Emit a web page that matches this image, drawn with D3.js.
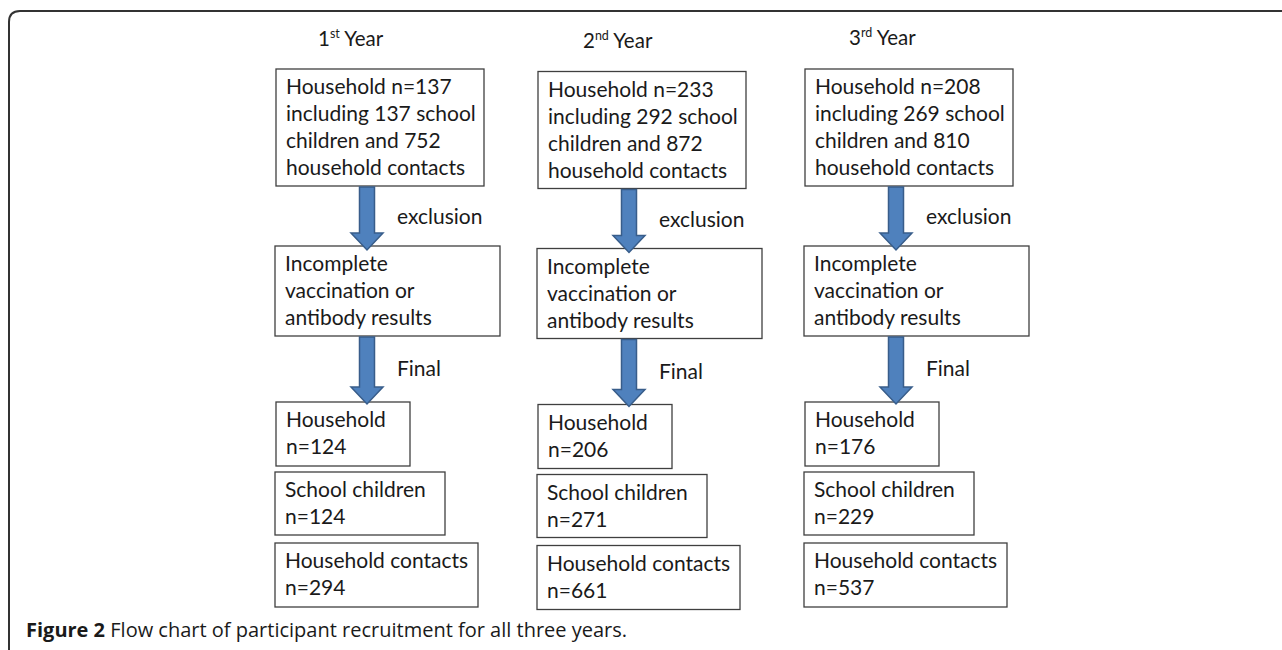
<!DOCTYPE html>
<html>
<head>
<meta charset="utf-8">
<script src="https://cdn.jsdelivr.net/npm/d3@7"></script>
<style>
  html, body { margin: 0; padding: 0; background: #fff; }
  svg text { fill: #1a1a1a; }
</style>
</head>
<body>
<svg id="chart" width="1282" height="650"></svg>
<script>
// data
const years = ["1", "2", "3"];
const yearSuffix = ["st", "nd", "rd"];
const households = [137, 233, 208];
const schoolChildren = [137, 292, 269];
const householdContacts = [752, 872, 810];
const exclusionLines = ["Incomplete", "vaccination or", "antibody results"];
const finalHouseholds = [124, 206, 176];
const finalChildren = [124, 271, 229];
const finalContacts = [294, 661, 537];
const arrowLabels = ["exclusion", "Final"];
const captionBold = "Figure 2";
const captionText = " Flow chart of participant recruitment for all three years.";

const svg = d3.select("#chart");
const width = +svg.attr("width");
const height = +svg.attr("height");

const boxFont = "Lato, 'Open Sans', sans-serif";
const boxFontSize = 21;
const lineStep = 27;

// column placement
const colX = d3.scaleOrdinal().domain(years).range([275, 537, 804]);
const colShift = d3.scaleOrdinal().domain(years).range([0, 2.5, 0]);

// rows of boxes: offset, top, size
const rows = [
  { key: "top", dx: 1, y: 69, w: 208, h: 117,
    lines: (i) => [
      "Household n=" + households[i],
      "including " + schoolChildren[i] + " school",
      "children and " + householdContacts[i],
      "household contacts"
    ] },
  { key: "excl", dx: 0, y: 246, w: 225, h: 90, lines: () => exclusionLines },
  { key: "hh", dx: 1, y: 402, w: 134, h: 64,
    lines: (i) => ["Household", "n=" + finalHouseholds[i]] },
  { key: "sc", dx: 0, y: 472, w: 170, h: 63,
    lines: (i) => ["School children", "n=" + finalChildren[i]] },
  { key: "hc", dx: 0, y: 543, w: 203, h: 64,
    lines: (i) => ["Household contacts", "n=" + finalContacts[i]] }
];

// outer frame, open on the right and bottom
const r = 11;
svg.append("path")
  .attr("d", `M9,${height} L9,${11 + r} Q9,11 ${9 + r},11 L${width},11`)
  .attr("fill", "none")
  .attr("stroke", "#333")
  .attr("stroke-width", 2);

const cols = svg.selectAll("g.year")
  .data(years)
  .join("g")
  .attr("class", "year")
  .attr("transform", (d) => `translate(${colX(d)},${colShift(d)})`);

// year titles
const titles = cols.append("text")
  .attr("x", (d, i) => [43, 46, 45][i])
  .attr("y", (d, i) => [46, 45, 45][i])
  .attr("font-family", boxFont)
  .attr("font-size", 20.5);
titles.append("tspan").text((d) => d);
titles.append("tspan")
  .attr("dy", -8)
  .attr("font-size", 12.5)
  .text((d, i) => yearSuffix[i]);
titles.append("tspan")
  .attr("dy", 8)
  .text(" Year");

// boxes
rows.forEach((row) => {
  const g = cols.append("g")
    .attr("class", "box " + row.key)
    .attr("transform", `translate(${row.dx},${row.y})`);

  g.append("rect")
    .attr("width", row.w)
    .attr("height", row.h)
    .attr("fill", "#fff")
    .attr("stroke", "#3f3f3f")
    .attr("stroke-width", 1.3);

  g.append("text")
    .attr("font-family", boxFont)
    .attr("font-size", boxFontSize)
    .selectAll("tspan")
    .data((d, i) => row.lines(i))
    .join("tspan")
    .attr("x", 10)
    .attr("y", (d, j) => 25 + j * lineStep)
    .text((d) => d);
});

// block arrows between boxes
const arrowX = 92;
const arrowSpans = [
  { from: rows[0].y + rows[0].h, to: rows[1].y + 4, label: arrowLabels[0] },
  { from: rows[1].y + rows[1].h, to: rows[2].y + 2, label: arrowLabels[1] }
];
const shaft = 7.5, head = 16, headLen = 17;

arrowSpans.forEach((a) => {
  const y0 = a.from + 1, y1 = a.to, yh = y1 - headLen;
  const pts = [
    [arrowX - shaft, y0], [arrowX + shaft, y0], [arrowX + shaft, yh],
    [arrowX + head, yh], [arrowX, y1], [arrowX - head, yh], [arrowX - shaft, yh]
  ];
  cols.append("path")
    .attr("d", d3.line()(pts) + "Z")
    .attr("fill", "#4f81bd")
    .attr("stroke", "#385d8a")
    .attr("stroke-width", 1.5);

  cols.append("text")
    .attr("x", 122)
    .attr("y", a.from + (a.label === "Final" ? 40 : 38))
    .attr("font-family", boxFont)
    .attr("font-size", boxFontSize)
    .text(a.label);
});

// caption
const caption = svg.append("text")
  .attr("x", 26)
  .attr("y", 637)
  .attr("font-family", "'Open Sans', 'Noto Sans', sans-serif")
  .attr("font-size", 20);
caption.append("tspan").attr("font-weight", 700).text(captionBold);
caption.append("tspan").text(captionText);
</script>
</body>
</html>
